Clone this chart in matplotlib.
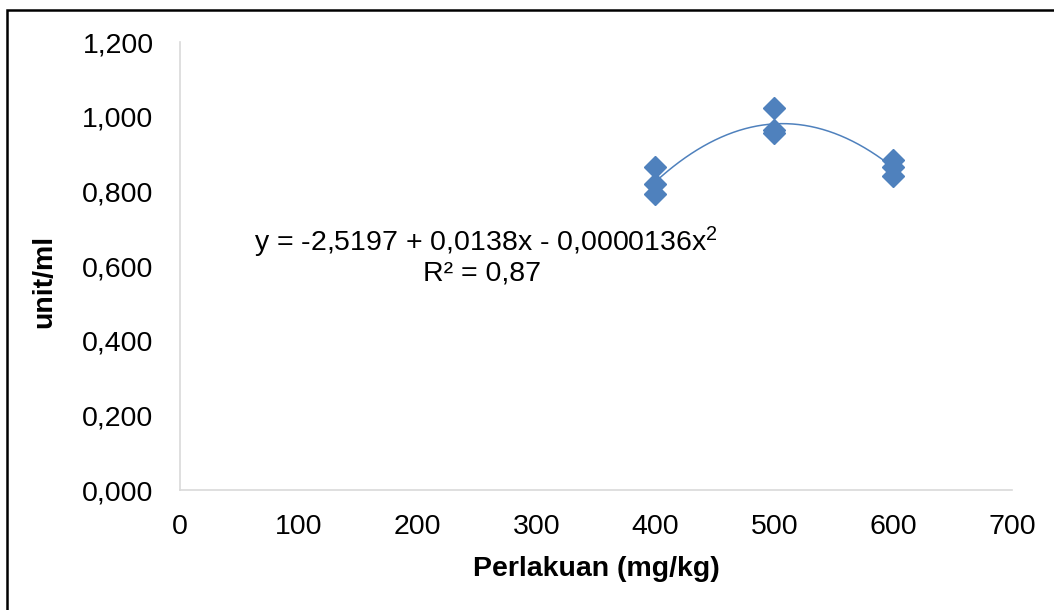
import matplotlib
matplotlib.use("Agg")
import matplotlib.pyplot as plt
import numpy as np
from matplotlib.patches import Rectangle

plt.rcParams['font.family'] = ['Liberation Sans', 'DejaVu Sans']
plt.rcParams['mathtext.fontset'] = 'custom'
plt.rcParams['mathtext.rm'] = 'Liberation Sans'

# Data
dose = [400, 400, 400, 500, 500, 500, 600, 600, 600]
activity = [0.866, 0.819, 0.792, 1.022, 0.964, 0.956, 0.885, 0.864, 0.842]
xticks = [0, 100, 200, 300, 400, 500, 600, 700]
yticks = [0.0, 0.2, 0.4, 0.6, 0.8, 1.0, 1.2]
eq_text = r"y = -2,5197 + 0,0138x - 0,0000136$\mathregular{x^2}$"
r2_text = "R² = 0,87"

FS = 20.5

fig = plt.figure(figsize=(10.54, 6.10), dpi=100)
ax = fig.add_axes([180/1054, 1-490/610, (1012-180)/1054, (490-42)/610])

color = '#4F81BD'
coef = np.polyfit(dose, activity, 2)
xs = np.linspace(min(dose), max(dose), 200)
ax.plot(xs, np.polyval(coef, xs), color=color, lw=1.1, zorder=2)
ax.plot(dose, activity, 'D', color=color, ms=11, mec=color, zorder=3, linestyle='none')

ax.set_xlim(0, 700)
ax.set_ylim(0, 1.2)
ax.set_xticks(xticks)
ax.set_yticks(yticks)
ax.set_xticklabels([str(v) for v in xticks])
ax.set_yticklabels([f"{v:.3f}".replace('.', ',') for v in yticks])
ax.tick_params(axis='both', length=0, labelsize=FS, colors='black')
ax.tick_params(axis='y', pad=19)
ax.tick_params(axis='x', pad=17)

for s in ['top', 'right']:
    ax.spines[s].set_visible(False)
for s in ['left', 'bottom']:
    ax.spines[s].set_color('#D9D9D9')
    ax.spines[s].set_linewidth(1.2)

ax.set_xlabel("Perlakuan (mg/kg)", fontsize=FS, fontweight='bold')
ax.set_ylabel("unit/ml", fontsize=FS, fontweight='bold')
ax.xaxis.set_label_coords(0.5, (490-569)/448)
ax.yaxis.set_label_coords((44-180)/832, (490-281)/448)
ax.xaxis.label.set_va('center')
ax.yaxis.label.set_va('center')

fig.text(486/1054, 1-251/610, eq_text, ha='center', va='baseline', fontsize=FS)
fig.text(482/1054, 1-281/610, r2_text, ha='center', va='baseline', fontsize=FS)

# outer frame
fig.patches.append(Rectangle((7/1054, -0.05), 1.1, 1-10/610+0.05, transform=fig.transFigure,
                             fill=False, edgecolor='black', lw=1.8, figure=fig))

fig.savefig("out.png", dpi=100)
